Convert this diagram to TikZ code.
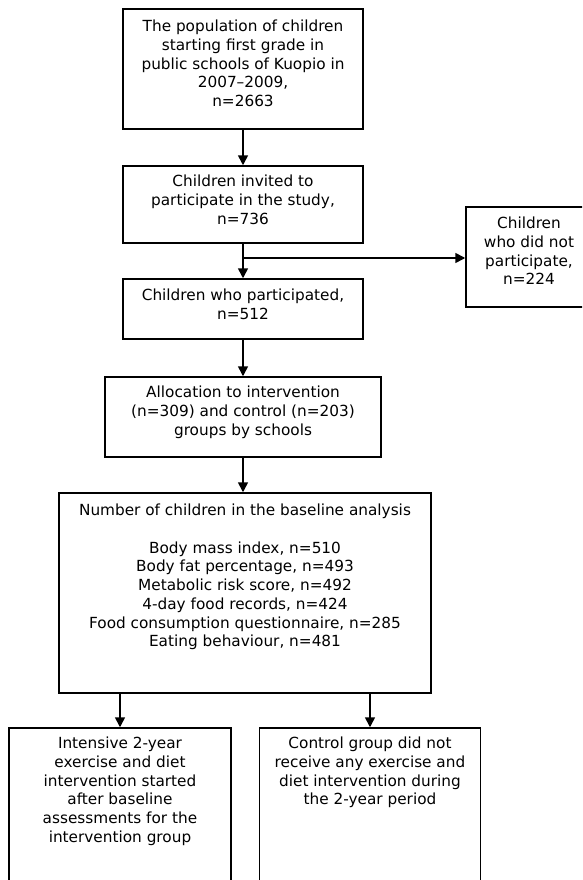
\documentclass[tikz,border=0pt]{standalone}
\usepackage{fontspec}
\setmainfont{DejaVu Sans}
\usetikzlibrary{arrows.meta}
\begin{document}
\begin{tikzpicture}[x=1pt, y=-1pt, line cap=butt, line join=miter, >={Triangle[width=10pt,length=10pt]},
		font=\fontsize{15.3}{18.7}\selectfont]
			\tikzset{flowbox/.style={draw, line width=1.5pt, inner sep=0pt},
				flowtext/.style={anchor=north, align=center, inner sep=0pt},
				flowarrow/.style={->, line width=1.6pt}}
			\useasboundingbox (0,0) rectangle (582,880);
			\clip (0,0) rectangle (582,880);
			% boxes
			\node[flowbox, minimum width=240pt, minimum height=120pt] (population) at (243,69) {};
			\node[flowbox, minimum width=240pt, minimum height=77pt] (invited) at (243,204.5) {};
			\node[flowbox, minimum width=240pt, minimum height=60pt] (participated) at (243,309) {};
			\node[flowbox, minimum width=126pt, minimum height=100pt] (nonpart) at (529,257) {};
			\node[flowbox, minimum width=276pt, minimum height=80pt] (allocation) at (243,417) {};
			\node[flowbox, minimum width=372pt, minimum height=200pt] (baseline) at (245,593) {};
			\node[flowbox, minimum width=222pt, minimum height=200pt] (intervention) at (120,828) {};
			\node[flowbox, minimum width=221pt, minimum height=200pt] (control) at (370,828) {};
			% texts
			\node[flowtext] (populationtext) at (243,20) {The population of children\\starting first grade in\\public schools of Kuopio in\\2007--2009,\\n=2663};
			\node[flowtext] (invitedtext) at (243,175) {Children invited to\\participate in the study,\\n=736};
			\node[flowtext] (participatedtext) at (243,289) {Children who participated,\\n=512};
			\node[flowtext] (nonparttext) at (529,217) {Children\\who did not\\participate,\\n=224};
			\node[flowtext] (allocationtext) at (243,386) {Allocation to intervention\\(n=309) and control (n=203)\\groups by schools};
			\node[flowtext] (baselinetext) at (245,504) {Number of children in the baseline analysis\\[18.7pt]Body mass index, n=510\\Body fat percentage, n=493\\Metabolic risk score, n=492\\4-day food records, n=424\\Food consumption questionnaire, n=285\\Eating behaviour, n=481};
			\node[flowtext] (interventiontext) at (120,737) {Intensive 2-year\\exercise and diet\\intervention started\\after baseline\\assessments for the\\intervention group};
			\node[flowtext] (controltext) at (370,737) {Control group did not\\receive any exercise and\\diet intervention during\\the 2-year period};
			% arrows
			\coordinate (split) at (invited.south |- 0,258);
			\draw[flowarrow] (population.south) -- (invited.north);
			\draw[flowarrow] (invited.south) -- (participated.north);
			\draw[flowarrow] (split) -- (nonpart.west |- split);
			\draw[flowarrow] (participated.south) -- (allocation.north);
			\draw[flowarrow] (allocation.south) -- (allocation.south |- baseline.north);
			\draw[flowarrow] (baseline.south -| intervention.north) -- (intervention.north);
			\draw[flowarrow] (baseline.south -| control.north) -- (control.north);
		\end{tikzpicture}
\end{document}
